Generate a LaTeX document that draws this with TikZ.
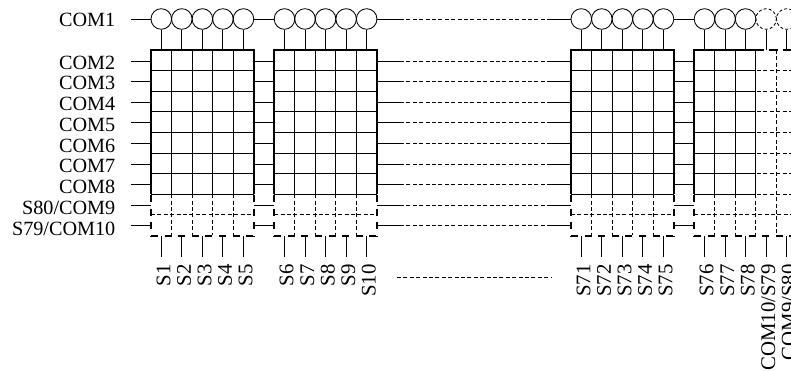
\documentclass[tikz,border=0pt]{standalone}
\usepackage{fontspec}
\setmainfont{Liberation Serif}
\tikzset{
  fine/.style={line width=0.9pt,draw=black},
  finedash/.style={line width=0.85pt,draw=black,dash pattern=on 4pt off 2.4pt},
  heavy/.style={line width=1.6pt,draw=black},
  heavydash/.style={line width=2pt,draw=black,dash pattern=on 7pt off 6.6pt},
  ring/.style={circle,inner sep=0pt,minimum size=20.6pt,line width=0.85pt,draw=black},
  dashring/.style={ring,dash pattern=on 3pt off 2.2pt},
  comlabel/.style={anchor=base east,inner sep=0pt,font=\fontsize{20.2}{21}\selectfont},
  seglabel/.style={anchor=base east,rotate=90,inner sep=0pt,font=\fontsize{20.8}{21}\selectfont}
}
\begin{document}
\begin{tikzpicture}[x=1pt,y=-1pt]
\useasboundingbox (0,0) rectangle (791,370);
\def\ct{20.55}
\def\rw{20.6}
% rings, stems, stubs
\foreach \b/\X in {1/151,2/274.2,3/571,4/694.2}{
  \foreach \i in {1,...,5}{
    \pgfmathsetmacro{\cx}{\X+(\i-0.5)*\ct}
    \pgfmathtruncatemacro{\isdash}{(\b==4 && \i>3) ? 1 : 0}
    \ifnum\isdash=1
      \node[dashring] (c\b-\i) at (\cx,19) {};
    \else
      \node[ring] (c\b-\i) at (\cx,19) {};
    \fi
    \coordinate (t\b-\i) at (\cx,50);
    \coordinate (u\b-\i) at (\cx,236);
    \coordinate (v\b-\i) at (\cx,256.5);
    \draw[fine] (c\b-\i.south) -- (t\b-\i);
    \draw[fine] (u\b-\i) -- (v\b-\i);
  }
  % row line ends on block edges
  \foreach \r in {1,...,9}{
    \pgfmathsetmacro{\ry}{61+(\r-1)*\rw}
    \coordinate (l\b-\r) at (\X,\ry);
    \coordinate (r\b-\r) at (\X+102.75,\ry);
  }
}
% grids of blocks 1-3
\foreach \X in {151,274.2,571}{
  \foreach \k in {1,...,4}{
    \draw[fine] (\X+\k*\ct,50) -- (\X+\k*\ct,194.2);
    \draw[finedash] (\X+\k*\ct,194.2) -- (\X+\k*\ct,235.4);
  }
  \foreach \k in {1,...,7}{
    \draw[fine] (\X,50+\k*\rw) -- (\X+102.75,50+\k*\rw);
  }
  \draw[finedash] (\X,214.8) -- (\X+102.75,214.8);
  \draw[heavy] (\X,194.2) -- (\X,50) -- (\X+102.75,50) -- (\X+102.75,194.2);
  \draw[heavydash] (\X,195) -- (\X,236);
  \draw[heavydash] (\X+102.75,195) -- (\X+102.75,236);
  \draw[heavydash] (\X,235.7) -- (\X+102.75,235.7);
}
% block 4
\def\X{694.2}
\foreach \k in {1,2}{
  \draw[fine] (\X+\k*\ct,50) -- (\X+\k*\ct,194.2);
  \draw[finedash] (\X+\k*\ct,194.2) -- (\X+\k*\ct,235.4);
}
\draw[fine] (755.9,50) -- (755.9,194.2);
\draw[finedash] (755.9,194.2) -- (755.9,235.4);
\draw[finedash] (776.4,50) -- (776.4,235.4);
\foreach \k in {1,...,7}{
  \draw[fine] (\X,50+\k*\rw) -- (755.9,50+\k*\rw);
  \draw[finedash] (757,50+\k*\rw) -- (791,50+\k*\rw);
}
\draw[finedash] (\X,214.8) -- (791,214.8);
\draw[heavy] (\X,194.2) -- (\X,50) -- (755.9,50);
\draw[line width=2pt,draw=black,dash pattern=on 9pt off 5pt] (755,50) -- (791,50);
\draw[heavydash] (\X,195) -- (\X,236);
\draw[heavydash] (\X,235.7) -- (791,235.7);
% common lines
\coordinate (start0) at (131,19);
\coordinate (ma0) at (400,19);
\coordinate (mb0) at (548,19);
\draw[fine] (start0) -- (c1-1.west);
\draw[fine] (c1-5.east) -- (c2-1.west);
\draw[fine] (c2-5.east) -- (ma0);
\draw[finedash] (ma0) -- (mb0);
\draw[fine] (mb0) -- (c3-1.west);
\draw[fine] (c3-5.east) -- (c4-1.west);
\foreach \r in {1,...,9}{
  \pgfmathsetmacro{\ry}{61+(\r-1)*\rw}
  \coordinate (s\r) at (131,\ry);
  \coordinate (ma\r) at (400,\ry);
  \coordinate (mb\r) at (548,\ry);
  \draw[fine] (s\r) -- (l1-\r);
  \draw[fine] (r1-\r) -- (l2-\r);
  \draw[fine] (r2-\r) -- (ma\r);
  \draw[finedash] (ma\r) -- (mb\r);
  \draw[fine] (mb\r) -- (l3-\r);
  \draw[fine] (r3-\r) -- (l4-\r);
}
% free dashed line
\coordinate (da) at (397,277.3);
\coordinate (db) at (552,277.3);
\draw[finedash] (da) -- (db);
% left labels
\node[comlabel] (n1) at (115.5,26) {COM1};
\foreach \t [count=\k from 0] in {COM2,COM3,COM4,COM5,COM6,COM7,COM8,S80/COM9,S79/COM10}{
  \node[comlabel] (m\k) at (115.5,69+\k*20.75) {\t};
}
% bottom labels
\foreach \b/\X/\names in {1/151/{S1,S2,S3,S4,S5},2/274.2/{S6,S7,S8,S9,S10},3/571/{S71,S72,S73,S74,S75},4/694.2/{S76,S77,S78,COM10/S79,COM9/S80}}{
  \foreach \t [count=\i from 1] in \names {
    \node[seglabel] (q\b-\i) at (\X+\i*\ct-0.5*\ct+9,264) {\t};
  }
}
\end{tikzpicture}
\end{document}
